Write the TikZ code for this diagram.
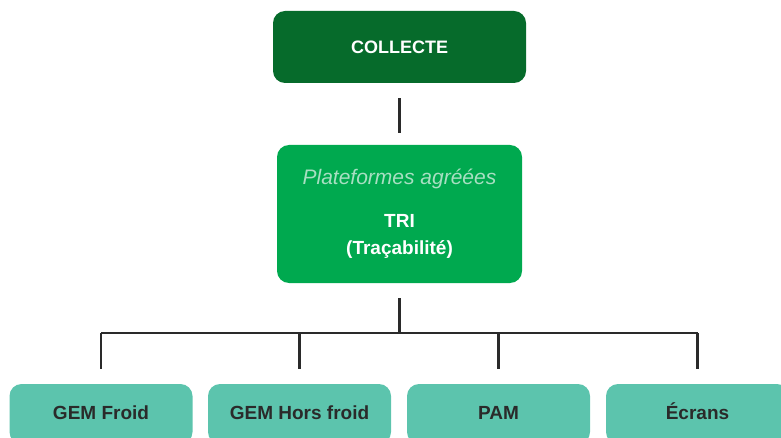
\documentclass[tikz,border=0pt]{standalone}
\usepackage{fontspec}
\setmainfont{Liberation Sans}
\definecolor{darkgreen}{HTML}{066B2B}
\definecolor{midgreen}{HTML}{00A94F}
\definecolor{palegreen}{HTML}{A8DFC2}
\definecolor{seagreen}{HTML}{5CC4AD}
\definecolor{ink}{HTML}{2A2A2A}
\begin{document}
\begin{tikzpicture}[x=1pt, y=-1pt, line width=2.1pt, draw=ink,
    box/.style = {rounded corners=12pt, inner sep=0pt, align=center},
    top/.style = {box, fill=darkgreen, text=white, minimum width=253pt, minimum height=72pt, font=\fontsize{18}{22}\selectfont\bfseries},
    mid/.style = {box, fill=midgreen, text=white, minimum width=245pt, minimum height=138pt, font=\fontsize{19}{27}\selectfont\bfseries},
    leaf/.style = {box, fill=seagreen, text=ink, minimum width=183pt, minimum height=60pt, text height=14pt, text depth=4pt, font=\fontsize{19}{22}\selectfont\bfseries}]
    \useasboundingbox (0,0) rectangle (781,438);
    \clip (0,0) rectangle (781,438);
    \node[top] (collecte) at (399.5,47) {COLLECTE};
    \node[mid] (tri) at (399.5,214) {{\fontsize{21}{24}\selectfont\mdseries\itshape\color{palegreen}Plateformes agréées}\\[16pt]TRI\\(Traçabilité)};
    \node[leaf] (froid) at (101,414) {GEM Froid};
    \node[leaf] (hors) at (299.5,414) {GEM Hors froid};
    \node[leaf] (pam) at (498.5,414) {PAM};
    \node[leaf] (ecrans) at (697.5,414) {Écrans};
    \coordinate (bus) at (399.5,333);
    \draw[shorten <=14pt, shorten >=11pt] (collecte) -- (tri);
    \draw[shorten <=14pt] (tri) -- (bus);
    \draw (bus -| froid) -- (bus -| ecrans);
    \foreach \n in {froid,hors,pam,ecrans}
      \draw[shorten >=14pt] (bus -| \n) -- (\n);
\end{tikzpicture}
\end{document}
